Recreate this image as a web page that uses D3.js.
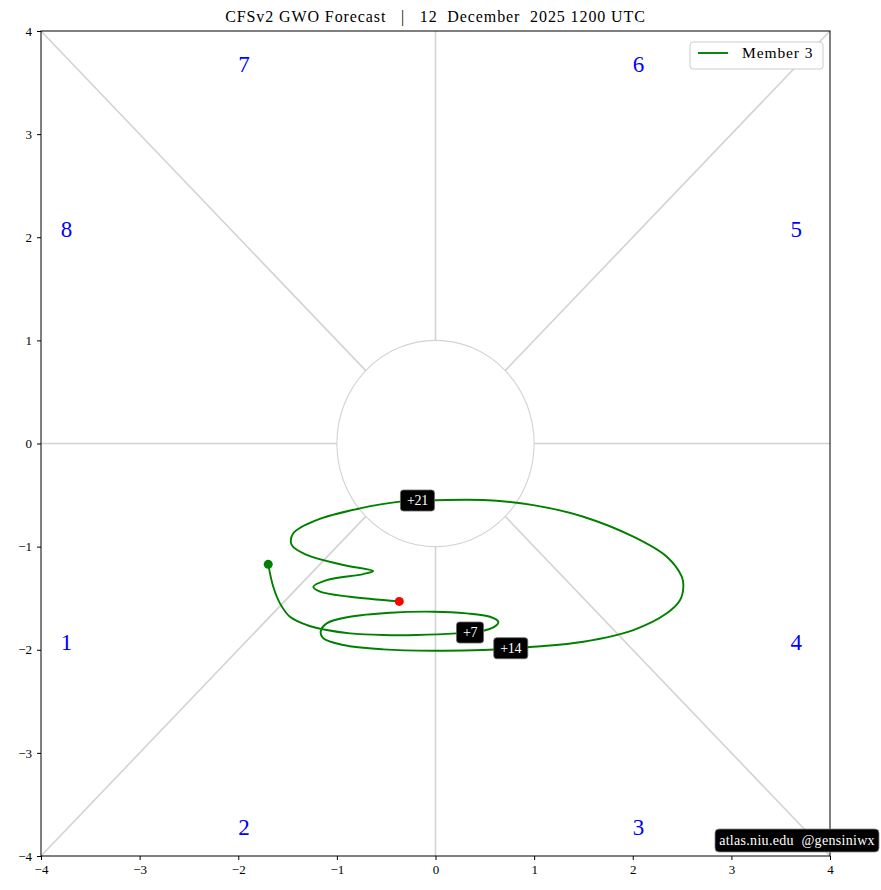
<!DOCTYPE html>
<html>
<head>
<meta charset="utf-8">
<script src="https://cdn.jsdelivr.net/npm/d3@7"></script>
<style>
  body { margin: 0; background: #fff; }
  text { font-family: "Liberation Serif", "DejaVu Serif", serif; }
</style>
</head>
<body>
<div id="chart"></div>
<script>
// forecast track, member 3 (GWO phase space)
var trackX = [-1.696, -1.645, -1.577, -1.476, -1.306, -1.103, -0.867, -0.529, -0.191, 0.215,
  0.485, 0.621, 0.637, 0.553, 0.316, -0.022, -0.461, -0.867, -1.103, -1.164,
  -1.138, -0.935, -0.529, -0.022, 0.485, 0.992, 1.499, 2.006, 2.345, 2.480,
  2.513, 2.497, 2.345, 2.006, 1.499, 0.992, 0.485, -0.181, -0.360, -0.766,
  -1.205, -1.442, -1.458, -1.306, -0.935, -0.631, -0.732, -1.103, -1.239, -1.171,
  -0.867, -0.367];
var trackY = [-1.172, -1.389, -1.550, -1.680, -1.760, -1.809, -1.841, -1.857, -1.857, -1.841,
  -1.816, -1.760, -1.728, -1.680, -1.647, -1.631, -1.641, -1.680, -1.744, -1.825,
  -1.889, -1.954, -1.996, -2.010, -2.003, -1.971, -1.922, -1.809, -1.647, -1.518,
  -1.389, -1.292, -1.098, -0.904, -0.710, -0.597, -0.548, -0.555, -0.564, -0.629,
  -0.742, -0.871, -0.984, -1.081, -1.178, -1.237, -1.266, -1.324, -1.389, -1.437,
  -1.486, -1.531];

var dayLabels = ["+7", "+14", "+21"];
var dayX = [0.35, 0.763, -0.183];
var dayY = [-1.833, -1.985, -0.553];

var phaseNames = ["1", "2", "3", "4", "5", "6", "7", "8"];
var phaseX = [-3.8, -2, 2, 3.6, 3.6, 2, -2, -3.8];
var phaseY = [-2, -3.8, -3.8, -2, 2, 3.6, 3.6, 2];

var tickValues = [-4, -3, -2, -1, 0, 1, 2, 3, 4];

var title = "CFSv2 GWO Forecast   |   12  December  2025 1200 UTC";
var memberName = "Member 3";

var W = 881, H = 890;
var margin = { top: 31, right: 51, bottom: 34, left: 41 };
var width = W - margin.left - margin.right, height = H - margin.top - margin.bottom;

var svg = d3.select("#chart").append("svg")
  .attr("width", W).attr("height", H);

var x = d3.scaleLinear().domain([-4, 4]).range([0, width]);
var y = d3.scaleLinear().domain([-4, 4]).range([height, 0]);

var g = svg.append("g")
  .attr("transform", "translate(" + margin.left + "," + margin.top + ")");

// phase-space guide lines
var grid = g.append("g").attr("class", "grid");
var c45 = Math.SQRT1_2;
var spokes = [
  [[-4, 0], [-1, 0]], [[1, 0], [4, 0]], [[0, -4], [0, -1]], [[0, 1], [0, 4]],
  [[-4, -4], [-c45, -c45]], [[c45, c45], [4, 4]], [[-4, 4], [-c45, c45]], [[c45, -c45], [4, -4]]
];
grid.selectAll("line").data(spokes).enter().append("line")
  .attr("x1", function (d) { return x(d[0][0]); })
  .attr("y1", function (d) { return y(d[0][1]); })
  .attr("x2", function (d) { return x(d[1][0]); })
  .attr("y2", function (d) { return y(d[1][1]); })
  .attr("stroke", "#d3d3d3").attr("stroke-width", 1.6);
grid.append("ellipse")
  .attr("cx", x(0)).attr("cy", y(0))
  .attr("rx", x(1) - x(0)).attr("ry", y(0) - y(1))
  .attr("fill", "none").attr("stroke", "#d3d3d3").attr("stroke-width", 1.1);

// phase numbers
g.selectAll(".phase").data(phaseNames).enter().append("text")
  .attr("class", "phase")
  .attr("x", function (d, i) { return x(phaseX[i]); })
  .attr("y", function (d, i) { return y(phaseY[i]); })
  .attr("fill", "blue").attr("font-size", 23)
  .text(function (d) { return d; });

// track
var pts = trackX.map(function (v, i) { return [v, trackY[i]]; });
var line = d3.line()
  .x(function (d) { return x(d[0]); })
  .y(function (d) { return y(d[1]); })
  .curve(d3.curveCatmullRom.alpha(0.5));
g.append("path").datum(pts)
  .attr("d", line)
  .attr("fill", "none").attr("stroke", "green").attr("stroke-width", 1.9);

g.append("circle")
  .attr("cx", x(trackX[0])).attr("cy", y(trackY[0])).attr("r", 4.5)
  .attr("fill", "green");
g.append("circle")
  .attr("cx", x(trackX[trackX.length - 1])).attr("cy", y(trackY[trackY.length - 1])).attr("r", 4.5)
  .attr("fill", "red");

// day markers
var days = g.selectAll(".day").data(dayLabels).enter().append("g")
  .attr("class", "day")
  .attr("transform", function (d, i) { return "translate(" + x(dayX[i]) + "," + y(dayY[i]) + ")"; });
days.append("rect")
  .attr("x", function (d) { return d.length > 2 ? -17 : -13.5; })
  .attr("y", -10.5)
  .attr("width", function (d) { return d.length > 2 ? 34 : 27; })
  .attr("height", 21).attr("rx", 3)
  .attr("fill", "black").attr("stroke", "#666").attr("stroke-width", 0.8);
days.append("text")
  .attr("text-anchor", "middle").attr("dy", "0.35em")
  .attr("fill", "white").attr("font-size", 14).attr("letter-spacing", "-0.3")
  .text(function (d) { return d; });

// axes
var xAxis = d3.axisBottom(x).tickValues(tickValues).tickSize(4).tickPadding(5);
var yAxis = d3.axisLeft(y).tickValues(tickValues).tickSize(4).tickPadding(5);
var gx = g.append("g").attr("transform", "translate(0," + height + ")").call(xAxis);
var gy = g.append("g").call(yAxis);
[gx, gy].forEach(function (a) {
  a.select(".domain").remove();
  a.selectAll("text").attr("font-size", 13).attr("font-family", "Liberation Serif, serif").attr("fill", "#000");
  a.selectAll("line").attr("stroke", "#000");
});
g.append("rect")
  .attr("width", width).attr("height", height)
  .attr("fill", "none").attr("stroke", "#000").attr("stroke-width", 1);

// title
svg.append("text")
  .attr("x", margin.left + width / 2).attr("y", 22)
  .attr("text-anchor", "middle").attr("font-size", 16)
  .attr("letter-spacing", "0.9")
  .style("white-space", "pre")
  .text(title);

// legend
var lg = g.append("g").attr("transform", "translate(" + (width - 140) + ",11)");
lg.append("rect")
  .attr("width", 133).attr("height", 27).attr("rx", 3)
  .attr("fill", "white").attr("stroke", "#ccc");
lg.append("line")
  .attr("x1", 8).attr("x2", 38).attr("y1", 11).attr("y2", 11)
  .attr("stroke", "green").attr("stroke-width", 1.9);
lg.append("text")
  .attr("x", 52).attr("y", 16).attr("font-size", 15.5)
  .attr("letter-spacing", "0.9")
  .text(memberName);

// watermark
var wm = svg.append("g").attr("transform", "translate(715,829)");
wm.append("rect")
  .attr("width", 164).attr("height", 23).attr("rx", 4)
  .attr("fill", "black").attr("stroke", "#888").attr("stroke-width", 0.8);
wm.append("text")
  .attr("x", 82).attr("y", 16).attr("text-anchor", "middle")
  .attr("fill", "white").attr("font-size", 14).attr("letter-spacing", "0.3")
  .style("white-space", "pre")
  .text("atlas.niu.edu  @gensiniwx");
</script>
</body>
</html>
